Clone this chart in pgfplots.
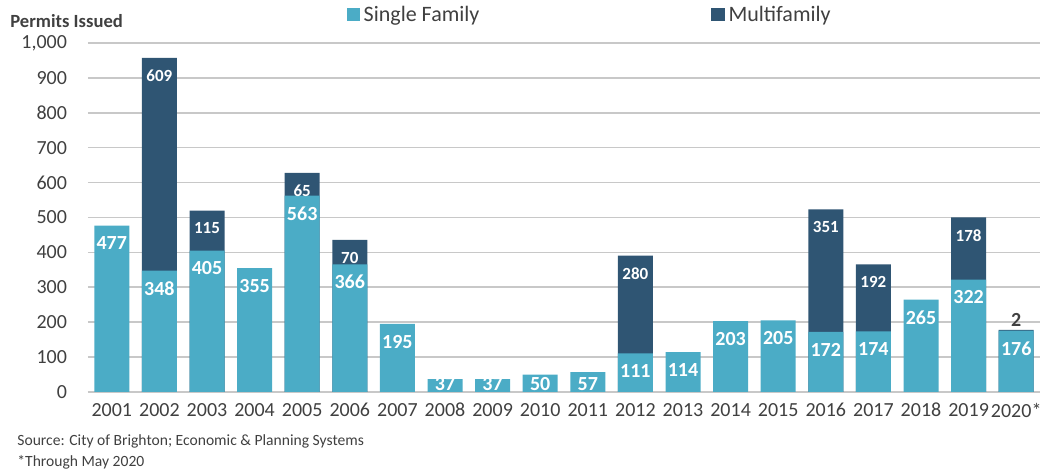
\documentclass[border=0pt]{standalone}
\usepackage{pgfplots}
\pgfplotsset{compat=1.18}
\usepackage{fontspec}
\setmainfont{Carlito}
\definecolor{sfam}{HTML}{4BACC6}
\definecolor{mfam}{HTML}{2F5573}
\definecolor{txt}{HTML}{404040}
\definecolor{gridc}{HTML}{C8C8C8}
\begin{document}
\begin{tikzpicture}
\begin{axis}[
  name=ax,
  ybar,
  bar shift=0pt,
  bar width=17.5pt,
  scale only axis,
  width=476pt, height=174.5pt,
  xmin=-0.5, xmax=19.5,
  ymin=0, ymax=1000,
  enlarge x limits=false,
  xtick={0,...,19},
  xticklabels={2001,2002,2003,2004,2005,2006,2007,2008,2009,2010,2011,2012,2013,2014,2015,2016,2017,2018,2019,2020*},
  ytick={0,100,...,1000},
  /pgf/number format/1000 sep={,},
  /pgf/number format/assume math mode=true,
  ticklabel style={font=\fontsize{10}{12}\selectfont, text=txt},
  x tick label style={yshift=-2pt},
  y tick label style={xshift=-7pt},
  major tick length=0pt,
  ymajorgrids,
  grid style={gridc, line width=0.8pt},
  axis x line*=bottom,
  axis y line*=left,
  x axis line style={gridc, line width=0.8pt},
  y axis line style={draw=none},
  axis line style={-},
  legend style={at={(0.528,1.08)}, anchor=center, draw=none, legend columns=2,
    font=\fontsize{11}{13}\selectfont, text=txt,
    /tikz/every even column/.append style={column sep=114pt}},
  legend image code/.code={\draw[#1, draw=none] (0cm,-0.1cm) rectangle (0.23cm,0.13cm);},
  point meta=explicit symbolic,
  nodes near coords,
]
% totals (single family + multifamily), drawn behind
\addplot[fill=mfam, draw=none, forget plot,
  every node near coord/.append style={anchor=north, yshift=-2.5pt, text=white, font=\bfseries\fontsize{8.5}{10}\selectfont}]
coordinates {
(1,957)[609] (2,520)[115] (4,628)[65] (5,436)[70]
(11,391)[280] (15,523)[351] (16,366)[192] (18,500)[178] (19,178)[]
};
% single family
\addplot[fill=sfam, draw=none, forget plot,
  every node near coord/.append style={anchor=north, yshift=-2pt, text=white, font=\bfseries\fontsize{10}{12}\selectfont}]
coordinates {
(0,477)[477] (1,348)[348] (2,405)[405] (3,355)[355] (4,563)[563]
(5,366)[366] (6,195)[195] (7,37)[] (8,37)[] (9,50)[]
(10,57)[] (11,111)[111] (12,114)[114] (13,203)[203] (14,205)[205]
(15,172)[172] (16,174)[174] (17,265)[265] (18,322)[322] (19,176)[176]
};
% labels of the short bars, kept inside the bars
\addplot[fill=none, draw=none, forget plot,
  every node near coord/.append style={anchor=south, yshift=-3pt, text=white, font=\bfseries\fontsize{10}{12}\selectfont}]
coordinates {(7,0)[37] (8,0)[37] (9,0)[50] (10,0)[57]};
% label above the 2020 bar
\addplot[fill=none, draw=none, forget plot,
  every node near coord/.append style={anchor=south, yshift=-2pt, text=txt, font=\bfseries\fontsize{10}{12}\selectfont}]
coordinates {(19,178)[2]};
\addlegendimage{fill=sfam}
\addlegendimage{fill=mfam}
\legend{Single Family,Multifamily}
\end{axis}
\node[anchor=west, inner sep=0pt, font=\bfseries\fontsize{9.3}{11}\selectfont, text=txt] at ([xshift=-39pt,yshift=11pt]ax.north west) {Permits Issued};
\node[anchor=west, inner sep=0pt, font=\fontsize{7.8}{9}\selectfont, text=txt] at ([xshift=-35.5pt,yshift=-24.5pt]ax.south west) {Source: City of Brighton; Economic \& Planning Systems};
\node[anchor=west, inner sep=0pt, font=\fontsize{7.8}{9}\selectfont, text=txt] at ([xshift=-35.5pt,yshift=-35pt]ax.south west) {*Through May 2020};
\pgfresetboundingbox
\path[use as bounding box] ([xshift=-44pt,yshift=-41.5pt]ax.south west) rectangle ([xshift=1pt,yshift=21.5pt]ax.north east);
\end{tikzpicture}
\end{document}
